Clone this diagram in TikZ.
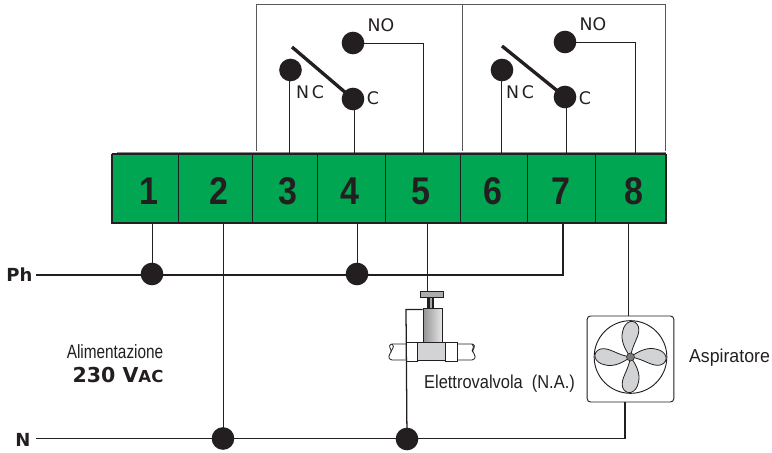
\documentclass[tikz,border=0pt]{standalone}
\usepackage{fontspec}
\setmainfont{Liberation Sans}
\newfontfamily\narrowf[FakeStretch=0.80]{Liberation Sans}
\newfontfamily\midf[FakeStretch=0.88]{Liberation Sans}
\newfontfamily\almostf[FakeStretch=0.95]{Liberation Sans}
\newfontfamily\digitf[FakeStretch=0.88]{Liberation Sans}
\newfontfamily\widef{DejaVu Sans}
\newfontfamily\contactf{DejaVu Sans}
\definecolor{termgreen}{HTML}{00A651}
\definecolor{ink}{HTML}{231F20}
\definecolor{framegray}{HTML}{58595B}
\definecolor{bladegray}{HTML}{D1D3D4}
\tikzset{
  cell/.style={draw=ink,line width=0.6pt,fill=termgreen,minimum height=51pt,inner sep=0pt,anchor=north west},
  digit/.style={font=\digitf\fontsize{29}{29}\selectfont\bfseries,text=ink,inner sep=0pt},
  dot/.style={circle,fill=ink,draw=none,minimum size=17pt,inner sep=0pt},
  bus/.style={draw=ink,line width=0.95pt},
  wire/.style={draw=ink,line width=0.72pt},
  frame/.style={draw=framegray,line width=0.75pt},
  contact/.style={font=\contactf\fontsize{13}{13}\selectfont,text=ink,inner sep=0pt},
  caption/.style={text=ink,inner sep=0pt},
  heavy/.style={font=\widef\bfseries\fontsize{13.5}{14}\selectfont,text=ink,inner sep=0pt},
}
\newcommand{\fanblade}[1]{%
  \filldraw[rotate around={#1:(fan.center)},shift={(fan.center)},fill=bladegray,draw=ink,line width=0.6pt]
    (0,0) .. controls (-6,-8) and (-10,-17) .. (-8,-25)
    .. controls (-6,-37) and (5,-39) .. (8,-30)
    .. controls (10,-21) and (2,-14) .. (0,0) -- cycle;}
\begin{document}
\begin{tikzpicture}[x=0.75pt,y=-0.75pt]
\useasboundingbox (0,0) rectangle (772,453);
% frames
\coordinate (fa) at (256.5,151); \coordinate (fb) at (256.5,4.5);
\coordinate (fc) at (462,4.5);   \coordinate (fd) at (462,151);
\coordinate (fe) at (665.5,4.5); \coordinate (ff) at (665.5,151);
\draw[frame] (fa) -- (fb) -- (fe) -- (ff);
\draw[frame] (fc) -- (fd);
% terminal block
\draw[draw=framegray!70,line width=1pt] (117,153) -- (666,153);
\draw[draw=framegray!70,line width=1pt] (111,222.5) -- (664,222.5);
\foreach \n/\a/\w in {1/111.5/66.5,2/178/74,3/252/65,4/317/68,5/385/75,6/460/67,7/527/68,8/595/70}{
  \node[cell,minimum width=\w*0.75pt] (t\n) at (\a,154) {};
}
\draw[draw=ink,line width=1.2pt] (t1.north west) -- (t8.north east);
\draw[draw=ink,line width=1.1pt] (t1.north west) -- (t1.south west) -- (t8.south east) -- (t8.north east);
\foreach \n/\x in {1/149,2/218.5,3/288,4/350,5/421,6/493,7/561,8/634}{
  \node[digit] (n\n) at (\x,191) {\n};
}
% relay contacts
\node[dot] (nc1) at (290.5,70) {};
\node[dot] (c1) at (353,99) {};
\node[dot] (no1) at (353,43) {};
\node[dot] (nc2) at (502,70) {};
\node[dot] (c2) at (565,97) {};
\node[dot] (no2) at (565,42) {};
\coordinate (lev1) at (292,47);
\coordinate (lev2) at (502,46);
\draw[draw=ink,line width=2.5pt] (lev1) -- (c1.center);
\draw[draw=ink,line width=2.5pt] (lev2) -- (c2.center);
\coordinate (w3) at (289,70);
\coordinate (w4) at (354,99);
\coordinate (w5) at (423,43);
\coordinate (w6) at (501,70);
\coordinate (w7) at (566,97);
\coordinate (w8) at (635,42);
\draw[wire] (w3) -- (w3 |- t3.north);
\draw[wire] (w4) -- (w4 |- t4.north);
\draw[wire] (no1.center) -- (w5) -- (w5 |- t5.north);
\draw[wire] (w6) -- (w6 |- t6.north);
\draw[wire] (w7) -- (w7 |- t7.north);
\draw[wire] (no2.center) -- (w8) -- (w8 |- t8.north);
\node[contact] (lno1) at (381,25) {NO};
\node[contact] (lnc1) at (310,92) {N\,C};
\node[contact] (lc1) at (373,98.5) {C};
\node[contact] (lno2) at (593,24) {NO};
\node[contact] (lnc2) at (520,92) {N\,C};
\node[contact] (lc2) at (585,98.5) {C};
% power
\node[heavy] (ph) at (19.5,275) {Ph};
\node[heavy] (nn) at (23,440) {N};
\node[dot] (d1) at (152,274) {};
\node[dot] (d4) at (357,274) {};
\node[dot] (d2) at (223,438.5) {};
\node[dot] (d5) at (407,439) {};
\coordinate (phl) at (36,275);
\coordinate (phr) at (563,275);
\coordinate (nl) at (36,438.5);
\coordinate (nr) at (625,438.5);
\coordinate (nup) at (625,402);
\draw[bus] (phl) -- (phr) -- (phr |- t7.south);
\draw[bus] (nl) -- (nr) -- (nup);
\draw[wire] (d1.center) -- (d1.center |- t1.south);
\draw[wire] (d4.center) -- (d4.center |- t4.south);
\draw[wire] (d2.center) -- (d2.center |- t2.south);
% fan
\node[draw=ink,line width=0.7pt,rounded corners=2.5pt,minimum width=65pt,minimum height=64.5pt,inner sep=0pt] (fanbox) at (630.5,359) {};
\node[circle,draw=ink,line width=0.7pt,minimum size=54.5pt,inner sep=0pt] (fanring) at (630.5,357) {};
\coordinate (fan) at (630.5,357);
\fanblade{0}\fanblade{90}\fanblade{180}\fanblade{270}
\node[circle,fill=framegray!80,draw=ink,line width=0.4pt,minimum size=6pt,inner sep=0pt] (hub) at (fan) {};
\coordinate (w8b) at (628,222);
\draw[wire] (w8b) -- (w8b |- fanbox.north);
% valve
\draw[draw=ink,line width=0.6pt] (406,344) -- (392,344) .. controls (386,346) and (393,350) .. (391,352) .. controls (389,355) and (387,359) .. (392,360) -- (406,360);
\draw[draw=ink,line width=0.6pt] (457,344) -- (472,344) .. controls (478,346) and (471,350) .. (473,352) .. controls (475,355) and (477,359) .. (472,360) -- (457,360);
\draw[draw=ink,line width=0.6pt] (392,344) .. controls (396,347) and (390,351) .. (391,352);
\draw[draw=ink,line width=0.6pt] (472,344) .. controls (476,347) and (470,351) .. (473,352);
\node[draw=ink,line width=0.6pt,fill=white,minimum width=8.25pt,minimum height=14pt,inner sep=0pt] (fitl) at (411.5,352) {};
\node[draw=ink,line width=0.6pt,fill=white,minimum width=9pt,minimum height=14pt,inner sep=0pt] (fitr) at (451,352) {};
\node[draw=ink,line width=0.6pt,fill=bladegray,minimum width=21pt,minimum height=14pt,inner sep=0pt] (vblock) at (431,351.5) {};
\fill[ink] (427,297) rectangle (434,308);
\fill[gray!70] (430,297) rectangle (432,308);
\node[draw=ink,line width=0.6pt,minimum width=14.25pt,minimum height=25.5pt,inner sep=0pt,left color=gray!85,right color=gray!20] (vbody) at (432.5,325) {};
\node[draw=ink,line width=0.6pt,minimum width=17.25pt,minimum height=4.5pt,inner sep=0pt,fill=gray!65] (vcap) at (431.5,294) {};
\coordinate (w5b) at (427,222);
\draw[wire] (w5b) -- (w5b |- vcap.north);
\coordinate (vw) at (406,309.5);
\draw[bus] (vbody.west |- vw) -- (vw) -- (d5.center);
% labels
\node[caption,font=\narrowf\fontsize{14.4}{15}\selectfont] (alim) at (115,352) {Alimentazione};
\node[inner sep=0pt,text=ink,font=\widef\bfseries\fontsize{15.4}{15}\selectfont] (vac) at (118,375) {230 V{\fontsize{12.4}{12}\selectfont AC}};
\node[caption,font=\midf\fontsize{14}{15}\selectfont] (ev) at (499.5,384) {Elettrovalvola\ \ (N.A.)};
\node[caption,font=\almostf\fontsize{14}{15}\selectfont] (asp) at (729.5,358) {Aspiratore};
\end{tikzpicture}
\end{document}
